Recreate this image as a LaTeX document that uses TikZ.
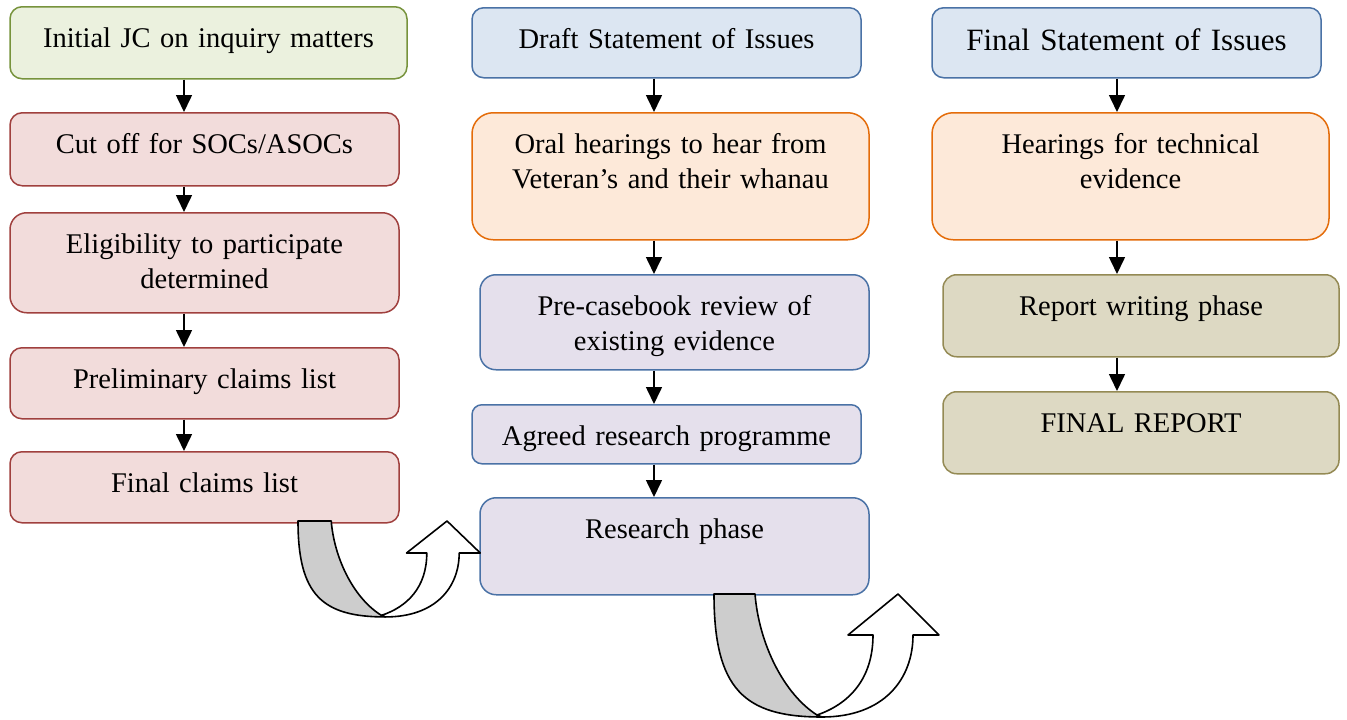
\documentclass[tikz,border=0pt]{standalone}
\usepackage{fontspec}
\setmainfont{Liberation Serif}
\definecolor{startfill}{HTML}{EBF1DE}
\definecolor{startline}{HTML}{77933C}
\definecolor{claimfill}{HTML}{F2DCDB}
\definecolor{claimline}{HTML}{A0403E}
\definecolor{issuefill}{HTML}{DCE6F2}
\definecolor{issueline}{HTML}{4A72A6}
\definecolor{hearfill}{HTML}{FDE9D9}
\definecolor{hearline}{HTML}{E46C0A}
\definecolor{studyfill}{HTML}{E5E0EC}
\definecolor{reportfill}{HTML}{DDD9C3}
\definecolor{reportline}{HTML}{948A54}
\definecolor{turngray}{HTML}{CDCDCD}
\usetikzlibrary{arrows.meta}

\begin{document}
\begin{tikzpicture}[x=1pt,y=-1pt,font=\fontsize{28.5}{35}\selectfont]
        \tikzset{
            stage/.style={
                draw,
                line width=1.5pt,
                inner sep=0pt,
                anchor=north,
                align=center,
                text height=41pt
            },
            stagesize/.style 2 args={
                text width=#1pt,
                text depth=#2pt-41pt,
                rounded corners=#2pt/6
            },
            startbox/.style={stage, draw=startline, fill=startfill},
            claimbox/.style={stage, draw=claimline, fill=claimfill},
            issuebox/.style={stage, draw=issueline, fill=issuefill},
            hearbox/.style={stage, draw=hearline, fill=hearfill},
            studybox/.style={stage, draw=issueline, fill=studyfill},
            reportbox/.style={stage, draw=reportline, fill=reportfill},
            flow/.style={
                -{Triangle[length=17pt,width=16pt]},
                line width=1.6pt
            },
            turnline/.style={
                draw=black,
                line width=1.6pt,
                line join=round
            },
            uturn/.pic={
                \draw[turnline, fill=turngray] (0,0) -- (41,0)
                    .. controls (45,50) and (70,100) .. (103,121) -- (108,123)
                    .. controls (30,123) and (0,95) .. (0,0) -- cycle;
                \draw[turnline, fill=white] (103,121) -- (108,123)
                    .. controls (170,123) and (199,85) .. (199,41)
                    -- (225,41) -- (184,0) -- (134,41) -- (159,41)
                    .. controls (159,85) and (135,110) .. (103,121) -- cycle;
            }
        }
        \useasboundingbox (0,0) rectangle (1347,720);

        % left column
        \node[startbox, stagesize={397}{72}] (initial) at (208.5,6)
            {Initial JC on inquiry matters\hspace*{20pt}};
        \node[claimbox, stagesize={389}{73}] (cutoff) at (204.5,112)
            {Cut off for SOCs/ASOCs};
        \node[claimbox, stagesize={389}{100}] (eligible) at (204.5,212)
            {Eligibility to participate\\determined};
        \node[claimbox, stagesize={389}{71}] (prelim) at (204.5,347)
            {Preliminary claims list};
        \node[claimbox, stagesize={389}{71}] (claims) at (204.5,451)
            {Final claims list};

        % middle column
        \node[issuebox, stagesize={389}{70}] (draft) at (666.5,7)
            {Draft Statement of Issues};
        \node[hearbox, stagesize={397}{127}] (oral) at (670.5,112)
            {Oral hearings to hear from\\Veteran’s and their whanau};
        \node[studybox, stagesize={389}{95}] (casebook) at (674.5,274)
            {Pre-casebook review of\\existing evidence};
        \node[studybox, stagesize={389}{59}] (programme) at (666.5,404)
            {Agreed research programme};
        \node[studybox, stagesize={389}{97}] (research) at (674.5,497)
            {Research phase};

        % right column
        \node[issuebox, stagesize={389}{70}, text height=43pt, text depth=27pt,
            font=\fontsize{31}{37}\selectfont] (final) at (1126.5,7)
            {Final Statement of Issues\hspace*{20pt}};
        \node[hearbox, stagesize={397}{127}] (technical) at (1130.5,112)
            {Hearings for technical\\evidence};
        \node[reportbox, stagesize={396}{82}] (writing) at (1141,274)
            {Report writing phase};
        \node[reportbox, stagesize={396}{82}] (report) at (1141,391)
            {FINAL REPORT};

        \coordinate (leftline) at (184,0);
        \coordinate (midline) at (654,0);
        \coordinate (rightline) at (1117,0);

        \draw[flow] (initial.south -| leftline) -- (cutoff.north -| leftline);
        \draw[flow] (cutoff.south -| leftline) -- (eligible.north -| leftline);
        \draw[flow] (eligible.south -| leftline) -- (prelim.north -| leftline);
        \draw[flow] (prelim.south -| leftline) -- (claims.north -| leftline);

        \draw[flow] (draft.south -| midline) -- (oral.north -| midline);
        \draw[flow] (oral.south -| midline) -- (casebook.north -| midline);
        \draw[flow] (casebook.south -| midline) -- (programme.north -| midline);
        \draw[flow] (programme.south -| midline) -- (research.north -| midline);

        \draw[flow] (final.south -| rightline) -- (technical.north -| rightline);
        \draw[flow] (technical.south -| rightline) -- (writing.north -| rightline);
        \draw[flow] (writing.south -| rightline) -- (report.north -| rightline);

        % hand-over arrows between columns
        \pic[xscale=0.81, yscale=0.78] at (298,521) {uturn};
        \pic at (714,594) {uturn};
    \end{tikzpicture}
\end{document}
